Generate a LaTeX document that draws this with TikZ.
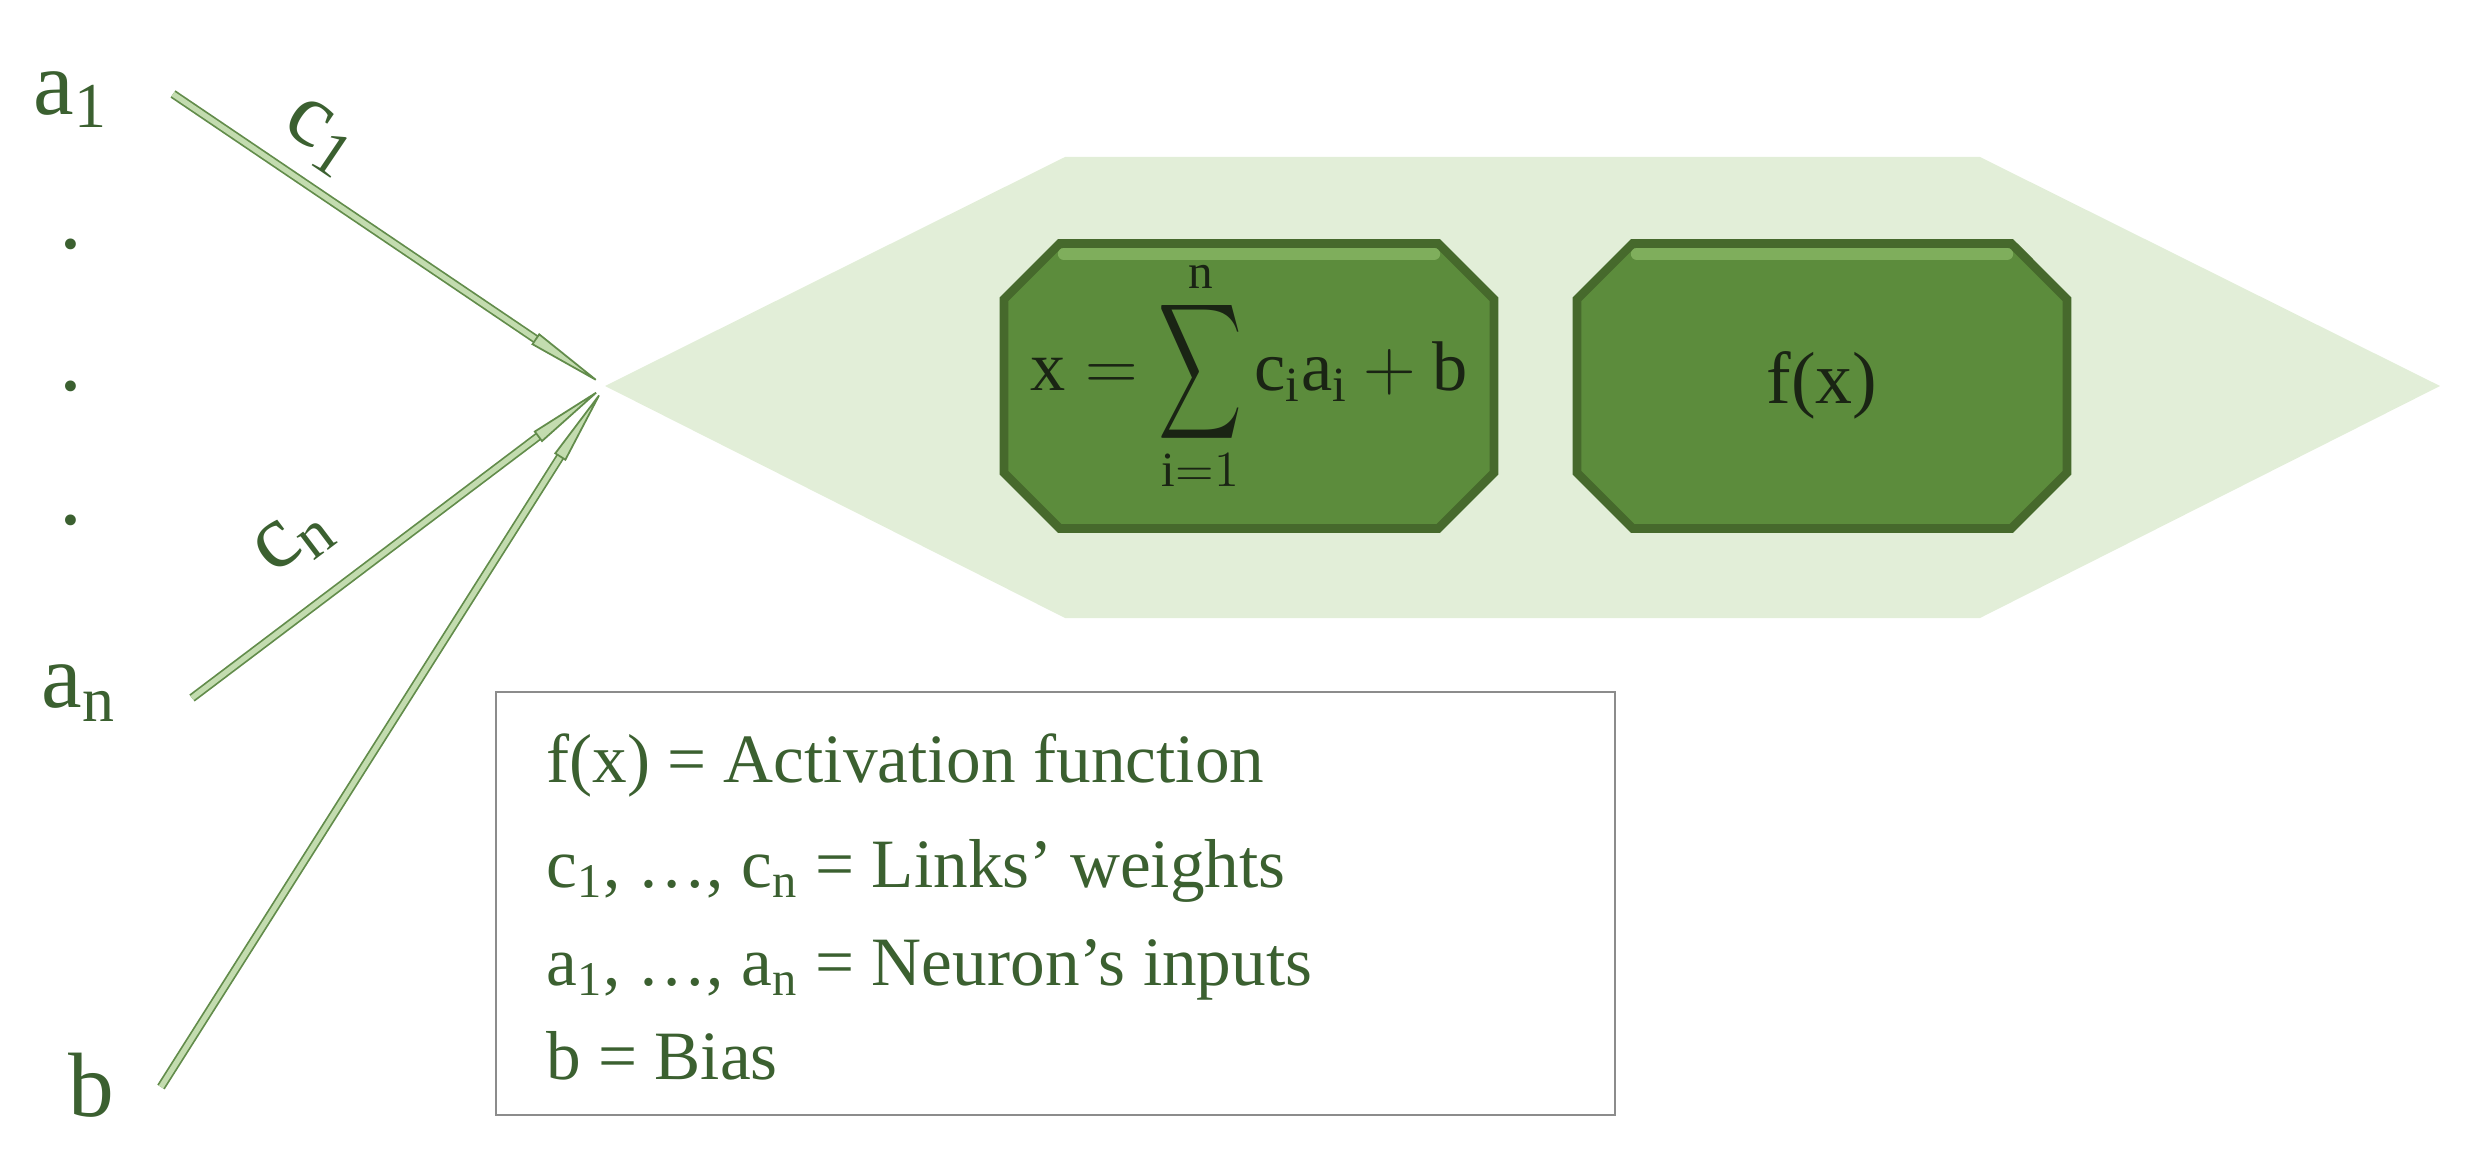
\documentclass[tikz,border=0pt]{standalone}
\usepackage{fontspec}
\setmainfont{Liberation Serif}
\usepackage{graphicx}
\usetikzlibrary{arrows.meta,shapes.misc,positioning}

\definecolor{hexfill}{HTML}{E2EED8}
\definecolor{boxface}{HTML}{5C8C3C}
\definecolor{boxedge}{HTML}{46692C}
\definecolor{boxlight}{HTML}{7FAE5C}
\definecolor{linkfill}{HTML}{C3DCAF}
\definecolor{linkedge}{HTML}{628C4B}
\definecolor{inktext}{HTML}{3B6030}
\definecolor{darkink}{HTML}{1A2414}
\definecolor{framegray}{HTML}{8C8C8C}

\begin{document}
\begin{tikzpicture}[thick]
    \tikzstyle{inlabel} = [text=inktext, font=\fontsize{26}{30}\selectfont, inner sep=2pt]
    \tikzstyle{weight} = [text=inktext, font=\fontsize{26}{30}\selectfont, inner sep=2pt, sloped]
    \tikzstyle{link} = [draw=linkedge, line width=0.5pt, double=linkfill, double distance=1.5pt, -{Triangle[length=24pt, width=3.8pt, fill=linkfill]}]
    \tikzstyle{cell} = [chamfered rectangle, chamfered rectangle xsep=0.45cm, minimum width=4.9cm, minimum height=2.85cm,
        text width=1.2cm, text height=0.55cm, text depth=0.2cm, align=center,
        fill=boxface, draw=boxedge, line width=2.5pt, text=darkink]
    \tikzstyle{bevel} = [boxlight, line width=3.5pt, line cap=round]
    \tikzstyle{legendline} = [anchor=base west, inner sep=0pt, text=inktext, font=\fontsize{19.7}{24}\selectfont]

    \useasboundingbox (0,0) rectangle (24.71,11.74);

    % Neuron body (light hexagon)
    \fill[hexfill] (6.05,7.88) coordinate (hub) -- (10.65,10.17) -- (19.80,10.17)
        -- (24.40,7.88) -- (19.80,5.56) -- (10.65,5.56) -- cycle;

    % Inputs (left column)
    \node[inlabel] (a1) at (0.71,10.74) {a\textsubscript{1}};
    \node[inlabel] (dot1) at (0.71,9.30) {.};
    \node[inlabel] (dot2) at (0.71,7.88) {.};
    \node[inlabel] (dot3) at (0.71,6.54) {.};
    \node[inlabel] (an) at (0.79,4.81) {a\textsubscript{n}};
    \node[inlabel] (b) at (0.91,0.89) {b};

    \coordinate (a1s) at (1.73,10.80);
    \coordinate (ans) at (1.92,4.76);
    \coordinate (bs) at (1.61,0.87);

    % Links into the neuron
    \draw[link] (a1s) -- node[weight, pos=0.28, above=3pt] {c\textsubscript{1}} (hub);
    \draw[link] (ans) -- node[weight, pos=0.34, above=8pt] {c\textsubscript{n}} (hub);
    \draw[link] (bs) -- (hub);

    % Sum and activation cells
    \node[cell] (sum) at (12.49,7.88) {};
    \node[cell] (act) at (18.22,7.88) {\fontsize{21}{25}\selectfont f(x)};
    \draw[bevel] ([xshift=-1.85cm,yshift=-0.15cm]sum.north) -- ([xshift=1.85cm,yshift=-0.15cm]sum.north);
    \draw[bevel] ([xshift=-1.85cm,yshift=-0.15cm]act.north) -- ([xshift=1.85cm,yshift=-0.15cm]act.north);
    \node[text=darkink, inner sep=0pt, font=\fontsize{20}{24}\selectfont] (sumtext) at ([yshift=0.1cm]sum.center)
        {$\mathrm{x} = \mathop{\vcenter{\hbox{\scalebox{1.65}[2.7]{$\displaystyle\sum$}}}}\limits_{\mathrm{i}=1}^{\mathrm{n}} \mathrm{c_i a_i} + \mathrm{b}$};

    % Legend
    \node[draw=framegray, line width=0.8pt, minimum width=11.19cm, minimum height=4.23cm] (legend) at (10.555,2.705) {};
    \node[legendline] (l1) at (5.45,3.92) {f(x) = Activation function};
    \node[legendline] (l2) at (5.45,2.87) {c\textsubscript{1}, …, c\textsubscript{n} = Links’ weights};
    \node[legendline] (l3) at (5.45,1.89) {a\textsubscript{1}, …, a\textsubscript{n} = Neuron’s inputs};
    \node[legendline] (l4) at (5.45,0.95) {b = Bias};
\end{tikzpicture}
\end{document}
